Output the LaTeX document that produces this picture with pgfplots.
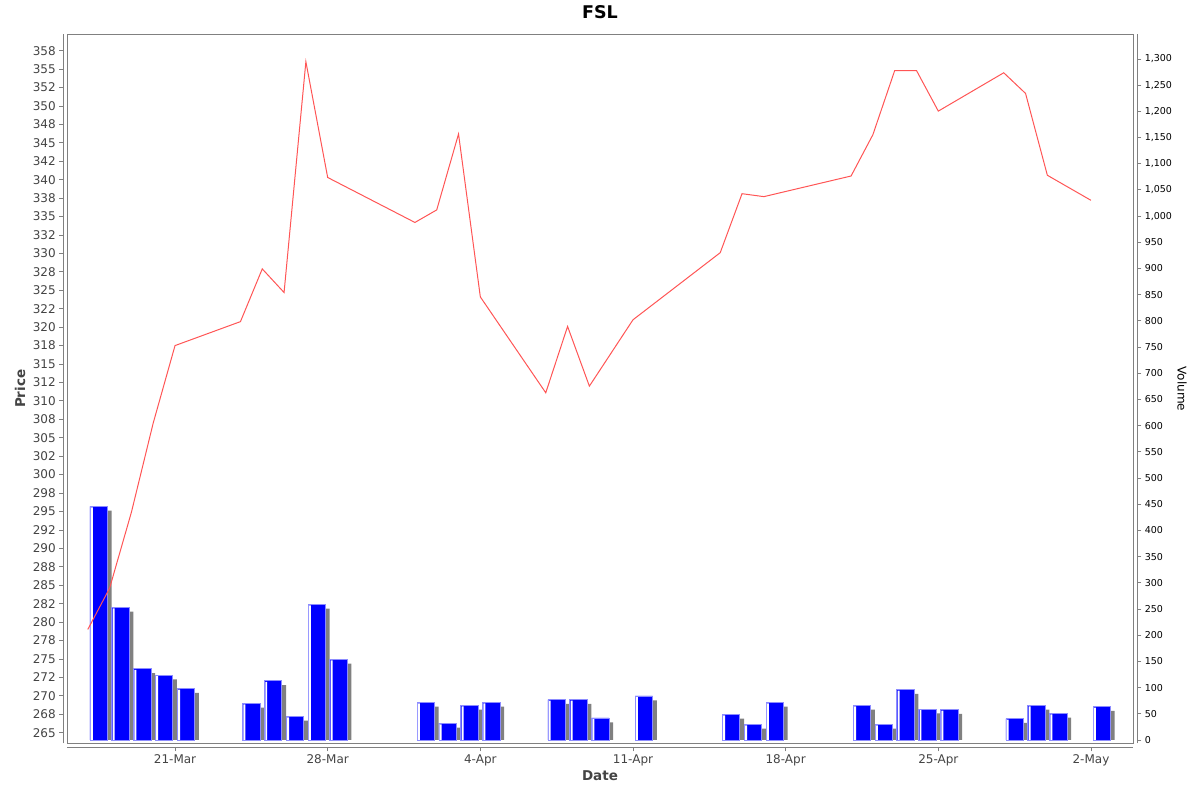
\documentclass[border=0pt]{standalone}
\usepackage{fontspec}
\setmainfont{DejaVu Sans}
\usepackage{pgfplots}
\usepackage{pgfplotstable}
\pgfplotsset{compat=1.18}

\definecolor{tickgray}{HTML}{444444}
\definecolor{framegray}{HTML}{808080}
\definecolor{linered}{HTML}{FF5555}
\definecolor{barblue}{HTML}{0000FF}
\definecolor{edgeblue}{HTML}{8C8CFF}
\definecolor{shadowgray}{HTML}{808080}

% day: March days as is, April = 31 + day, May = 61 + day
\pgfplotstableread{
day price
17 279.0
18 284.6
19 294.9
20 307.0
21 317.5
24 320.75
25 327.9
26 324.7
27 356.0
28 340.3
32 334.2
33 335.9
34 346.2
35 324.1
38 311.1
39 320.1
40 312.0
42 321.0
46 330.1
47 338.1
48 337.7
52 340.5
53 346.1
54 354.8
55 354.8
56 349.3
59 354.5
60 351.7
61 340.6
63 337.2
}\pricetable

\pgfplotstableread{
day vol
17 446
18 253
19 136
20 124
21 98
24 70
25 113
26 45
27 259
28 154
32 72
33 32
34 66
35 72
38 77
39 77
40 42
42 84
46 49
47 30
48 72
52 66
53 30
54 96
55 59
56 58
59 41
60 66
61 51
63 64
}\voltable

\begin{document}
\begin{tikzpicture}
\useasboundingbox (-67.3pt,-48.7pt) rectangle (1132.7pt,743.3pt);

\pgfplotsset{
  chartbase/.style={
    at={(0,0)}, anchor=south west,
    scale only axis, width=1066pt, height=709pt,
    xmin=16.06, xmax=64.94,
    tick align=outside, major tick length=4pt,
    every tick/.append style={framegray, line width=0.8pt},
    clip=true,
  },
}

% volume bars, right axis
\begin{axis}[
  chartbase,
  ymin=-6.3, ymax=1347,
  axis x line=none,
  axis y line*=right,
  y axis line style={framegray, line width=0.8pt, xshift=4pt},
  every major y tick/.append style={xshift=4pt},
  ytick={0,50,...,1300},
  yticklabel style={font=\fontsize{9.5}{11}\selectfont, black, xshift=4pt},
  /pgf/number format/.cd, 1000 sep={,}, assume math mode=true,
]
\addplot[ybar, bar shift=0pt, bar width=0.8, fill=shadowgray, draw=none]
  table[x expr=\thisrow{day}+0.69, y expr=\thisrow{vol}-8.2] {\voltable};
\addplot[ybar, bar shift=0pt, bar width=0.8, fill=barblue, draw=edgeblue, line width=0.8pt]
  table[x expr=\thisrow{day}+0.5, y=vol] {\voltable};
\addplot[ybar, bar shift=0pt, bar width=0.09, fill=white, draw=none]
  table[x expr=\thisrow{day}+0.183, y expr=\thisrow{vol}-2] {\voltable};
\end{axis}

% price line, left axis
\begin{axis}[
  chartbase,
  ymin=263.56, ymax=359.72,
  axis x line*=bottom, axis y line*=left,
  x axis line style={framegray, line width=0.8pt, yshift=-4pt},
  y axis line style={framegray, line width=0.8pt, xshift=-4pt},
  every major x tick/.append style={yshift=-4pt},
  every major y tick/.append style={xshift=-4pt},
  xtick={21,28,35,42,49,56,63},
  xticklabels={21-Mar,28-Mar,4-Apr,11-Apr,18-Apr,25-Apr,2-May},
  ytick={265,267.5,...,358},
  yticklabels={265,268,270,272,275,278,280,282,285,288,290,292,295,298,300,302,305,308,310,312,315,318,320,322,325,328,330,332,335,338,340,342,345,348,350,352,355,358},
  xticklabel style={font=\fontsize{12}{14}\selectfont, text=tickgray, yshift=-4pt},
  yticklabel style={font=\fontsize{12}{14}\selectfont, text=tickgray, xshift=-4pt},
]
\addplot[linered, line width=1pt, mark=none] table[x=day, y=price] {\pricetable};
\end{axis}

\draw[framegray, line width=0.8pt] (0,0) rectangle (1066pt,709pt);

\node[font=\bfseries\fontsize{17.5}{20}\selectfont] at (532.7pt,731.3pt) {FSL};
\node[font=\bfseries\fontsize{13.5}{16}\selectfont, text=tickgray] at (532.7pt,-32.7pt) {Date};
\node[font=\bfseries\fontsize{13.5}{16}\selectfont, text=tickgray, rotate=90] at (-47.3pt,354.5pt) {Price};
\node[font=\fontsize{12}{14}\selectfont, rotate=-90] at (1114.7pt,354.5pt) {Volume};
\end{tikzpicture}
\end{document}
